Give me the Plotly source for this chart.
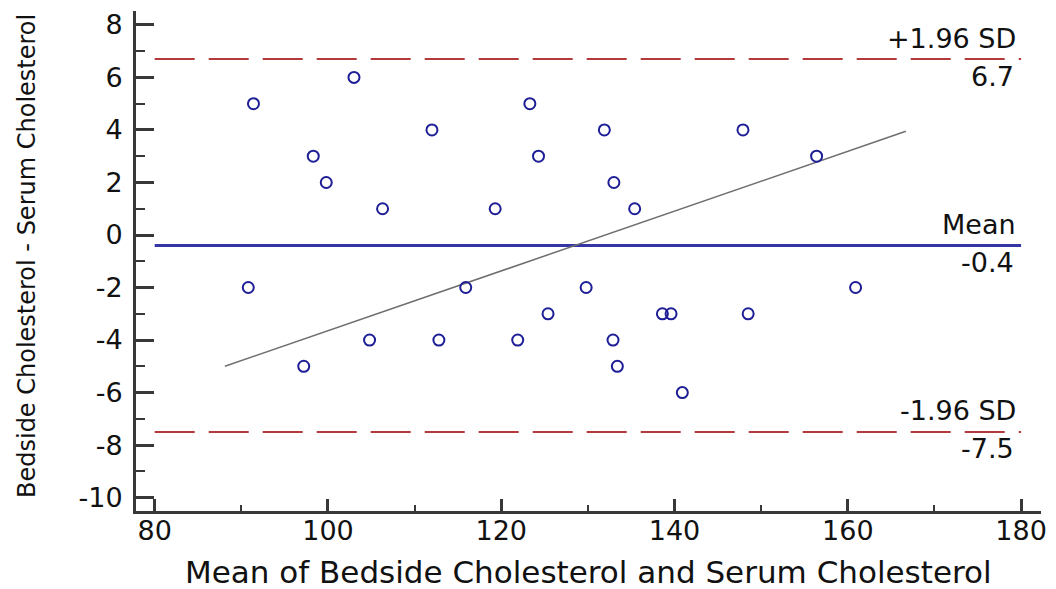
import plotly.graph_objects as go

# Mean of the two methods (x) and their difference (y)
mean_values = [91.4, 103.0, 98.3, 99.8, 106.3, 112.0, 119.3, 123.3, 124.3, 131.9,
               133.0, 135.4, 147.9, 156.4,
               90.8, 115.9, 129.8, 160.9, 125.4, 138.6, 139.6, 148.5, 104.8, 112.8,
               121.9, 132.9, 97.2, 133.4, 140.9]
differences = [5, 6, 3, 2, 1, 4, 1, 5, 3, 4,
               2, 1, 4, 3,
               -2, -2, -2, -2, -3, -3, -3, -3, -4, -4,
               -4, -4, -5, -5, -6]

# Reference lines: mean difference and limits of agreement
mean_diff = -0.4
upper_loa = 6.7
lower_loa = -7.5
line_x = [80, 180]

# Regression line of difference on mean
reg_x = [88.1, 166.7]
reg_y = [-5.0, 3.95]

x_ticks = [80, 100, 120, 140, 160, 180]
y_ticks = [-10, -8, -6, -4, -2, 0, 2, 4, 6, 8]
y_tick_text = [str(v) for v in y_ticks]  # plain hyphen for negatives

FONT = "DejaVu Sans"
RED = "#b23a3a"
BLUE = "#3535a6"
AXIS = "#383838"
TEXT = "#111111"

fig = go.Figure()

fig.add_trace(go.Scatter(x=line_x, y=[upper_loa] * 2, mode="lines",
                         line=dict(color=RED, width=2, dash="40px,14px"),
                         hoverinfo="skip"))
fig.add_trace(go.Scatter(x=line_x, y=[lower_loa] * 2, mode="lines",
                         line=dict(color=RED, width=2, dash="40px,14px"),
                         hoverinfo="skip"))
fig.add_trace(go.Scatter(x=line_x, y=[mean_diff] * 2, mode="lines",
                         line=dict(color=BLUE, width=3), hoverinfo="skip"))
fig.add_trace(go.Scatter(x=reg_x, y=reg_y, mode="lines",
                         line=dict(color="#6e6e6e", width=1.5), hoverinfo="skip"))
fig.add_trace(go.Scatter(x=mean_values, y=differences, mode="markers",
                         marker=dict(symbol="circle-open", size=11,
                                     color="#1e1e96", line=dict(width=2))))

# Labels on the right end of the reference lines
ref_labels = [
    (upper_loa, "+1.96 SD", f"{upper_loa:.1f}"),
    (mean_diff, "Mean", f"{mean_diff:.1f}"),
    (lower_loa, "-1.96 SD", f"{lower_loa:.1f}"),
]
annotations = []
for yv, above, below in ref_labels:
    annotations.append(dict(x=179.7, y=yv, xref="x", yref="y", text=above,
                            showarrow=False, xanchor="right", yanchor="middle",
                            yshift=21, font=dict(family=FONT, size=27, color=TEXT)))
    annotations.append(dict(x=179.4, y=yv, xref="x", yref="y", text=below,
                            showarrow=False, xanchor="right", yanchor="middle",
                            yshift=-17, font=dict(family=FONT, size=27, color=TEXT)))

# Axis titles
annotations.append(dict(x=0.5, y=0, xref="paper", yref="paper",
                        text="Mean of Bedside Cholesterol and Serum Cholesterol",
                        showarrow=False, xanchor="center", yanchor="middle",
                        yshift=-61,
                        font=dict(family=FONT, size=31, color=TEXT)))
annotations.append(dict(x=0, y=0.51, xref="paper", yref="paper",
                        text="Bedside Cholesterol - Serum Cholesterol",
                        showarrow=False, textangle=-90, xanchor="center",
                        yanchor="middle", xshift=-109,
                        font=dict(family=FONT, size=24, color=TEXT)))

fig.update_layout(
    width=1056, height=589,
    margin=dict(l=136, r=13, t=9, b=78),
    paper_bgcolor="white", plot_bgcolor="white",
    showlegend=False,
    annotations=annotations,
    xaxis=dict(range=[77.84, 182.3], tickvals=x_ticks, showgrid=False,
               zeroline=False, showline=True, linecolor=AXIS, linewidth=3,
               ticks="inside", ticklen=12, tickwidth=3, tickcolor=AXIS,
               minor=dict(dtick=10, tick0=80, ticks="inside", ticklen=6,
                          tickwidth=2, tickcolor=AXIS),
               ticklabelstandoff=-6,
               tickfont=dict(family=FONT, size=27, color=TEXT)),
    yaxis=dict(range=[-10.51, 8.53], tickvals=y_ticks, ticktext=y_tick_text,
               showgrid=False,
               zeroline=False, showline=True, linecolor=AXIS, linewidth=3,
               ticks="inside", ticklen=18, tickwidth=3, tickcolor=AXIS,
               minor=dict(dtick=1, tick0=0, ticks="inside", ticklen=9,
                          tickwidth=2, tickcolor=AXIS),
               ticklabelstandoff=5,
               tickfont=dict(family=FONT, size=27, color=TEXT)),
)

fig.write_html("out.html")
